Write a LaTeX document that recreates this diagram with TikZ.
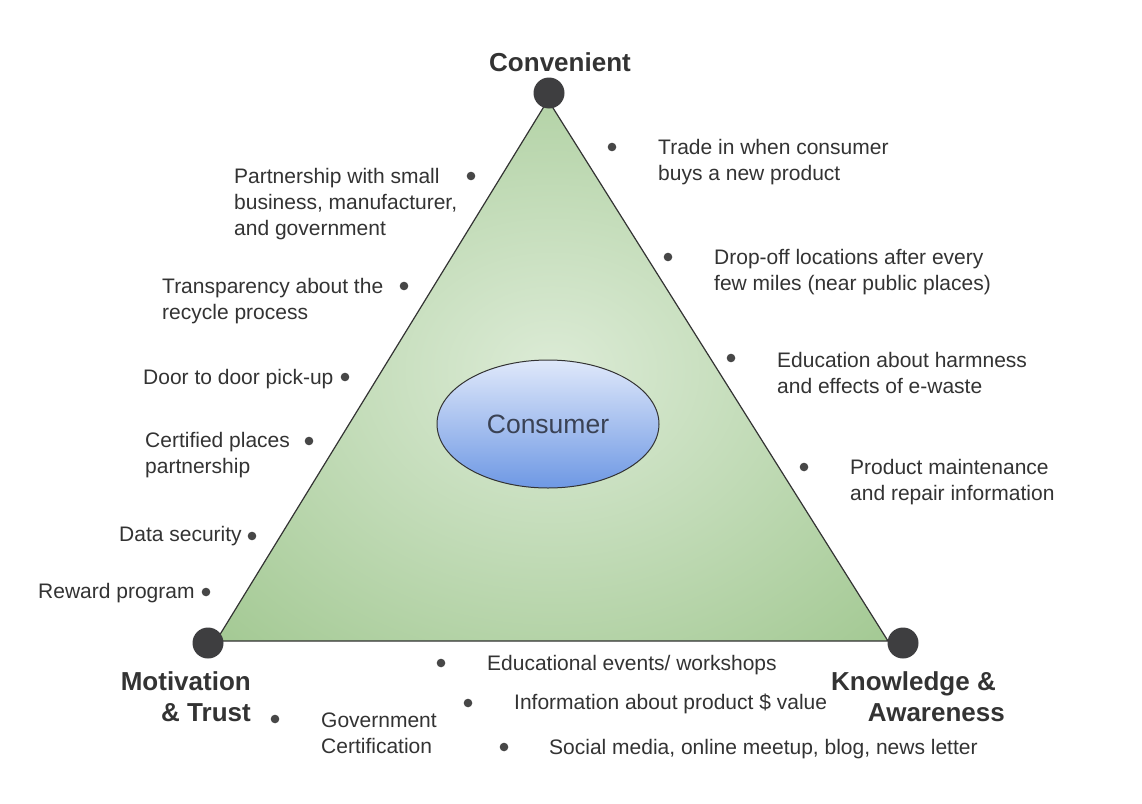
\documentclass[tikz,border=0pt]{standalone}
\usepackage{fontspec}
\setmainfont{Liberation Sans}
\usetikzlibrary{shapes.geometric}

\definecolor{txt}{HTML}{333333}
\definecolor{knob}{HTML}{3E3E40}
\definecolor{trilight}{HTML}{DCEBD6}
\definecolor{tridark}{HTML}{8CBB78}
\definecolor{eltop}{HTML}{DFE8FA}
\definecolor{elbot}{HTML}{6E98E4}
\definecolor{eltext}{HTML}{3A4254}
\pgfdeclareradialshading{trishade}{\pgfpoint{0bp}{0bp}}%
{color(0bp)=(trilight); color(50bp)=(tridark); color(60bp)=(tridark)}

\tikzset{
  bullet/.style={fill=txt!90!white},
  item/.style={anchor=west, align=left, text=txt, inner sep=0pt,
    font=\fontsize{21}{26}\selectfont},
  corner/.style={text=txt, inner sep=0pt,
    font=\fontsize{26}{31}\selectfont\bfseries},
}

\begin{document}
\begin{tikzpicture}[x=1pt, y=-1pt]
\useasboundingbox[fill=white] (0,0) rectangle (1142,803);

\draw[shading=trishade, draw=txt, line width=1.2pt]
(548,100) -- (216,641) -- (888,641) -- cycle;

\fill[knob] (549,93) circle (15.5pt);
\fill[knob] (208,643) circle (15.5pt);
\fill[knob] (903,643) circle (15.5pt);

\node[draw=txt, line width=1pt, ellipse, minimum width=222pt, minimum height=128pt,
  top color=eltop, bottom color=elbot, text=eltext,
  font=\fontsize{26.5}{30}\selectfont] (consumer) at (548,424) {Consumer};

%%%%%%%%%%%%%%%%%%%%%%%%%%%%%%%
\node[corner] (conv) at (560,62) {Convenient};
\node[corner, align=right, anchor=east] (motiv) at (251,697) {Motivation\\\& Trust};
\node[corner, align=right, anchor=east] (know) at (1005,697) {Knowledge \&\kern9pt\\Awareness};

%%%%%%%%%%%%%%%%%%%%%%%%%%%%%%% right side
\fill[bullet] (612,147) circle (4.3pt);
\node[item] (trade) at (658,162) {Trade in when consumer\\buys a new product};
\fill[bullet] (668,257) circle (4.3pt);
\node[item] (dropoff) at (714,272) {Drop-off locations after every\\few miles (near public places)};
\fill[bullet] (731,358) circle (4.3pt);
\node[item] (harm) at (777,373) {Education about harmness\\and effects of e-waste};
\fill[bullet] (804,467) circle (4.3pt);
\node[item] (repair) at (850,482) {Product maintenance\\and repair information};

%%%%%%%%%%%%%%%%%%%%%%%%%%%%%%% left side
\fill[bullet] (471,176) circle (4.3pt);
\node[item] (partner) at (234,204) {Partnership with small\\business, manufacturer,\\and government};
\fill[bullet] (404,286) circle (4.3pt);
\node[item] (transp) at (162,301) {Transparency about the\\recycle process};
\fill[bullet] (345,377) circle (4.3pt);
\node[item] (pickup) at (143,379) {Door to door pick-up};
\fill[bullet] (309,441) circle (4.3pt);
\node[item] (certif) at (145,455) {Certified places\\partnership};
\fill[bullet] (252,536) circle (4.3pt);
\node[item] (data) at (119,536) {Data security};
\fill[bullet] (206,592) circle (4.3pt);
\node[item] (reward) at (38,593) {Reward program};

%%%%%%%%%%%%%%%%%%%%%%%%%%%%%%% bottom
\fill[bullet] (441,663) circle (4.3pt);
\node[item] (events) at (487,665) {Educational events/ workshops};
\fill[bullet] (468,703) circle (4.3pt);
\node[item] (value) at (514,704) {Information about product \$ value};
\fill[bullet] (504,747) circle (4.3pt);
\node[item] (social) at (549,749) {Social media, online meetup, blog, news letter};
\fill[bullet] (275,719) circle (4.3pt);
\node[item] (govt) at (321,733) {Government\\Certification};
\end{tikzpicture}
\end{document}
